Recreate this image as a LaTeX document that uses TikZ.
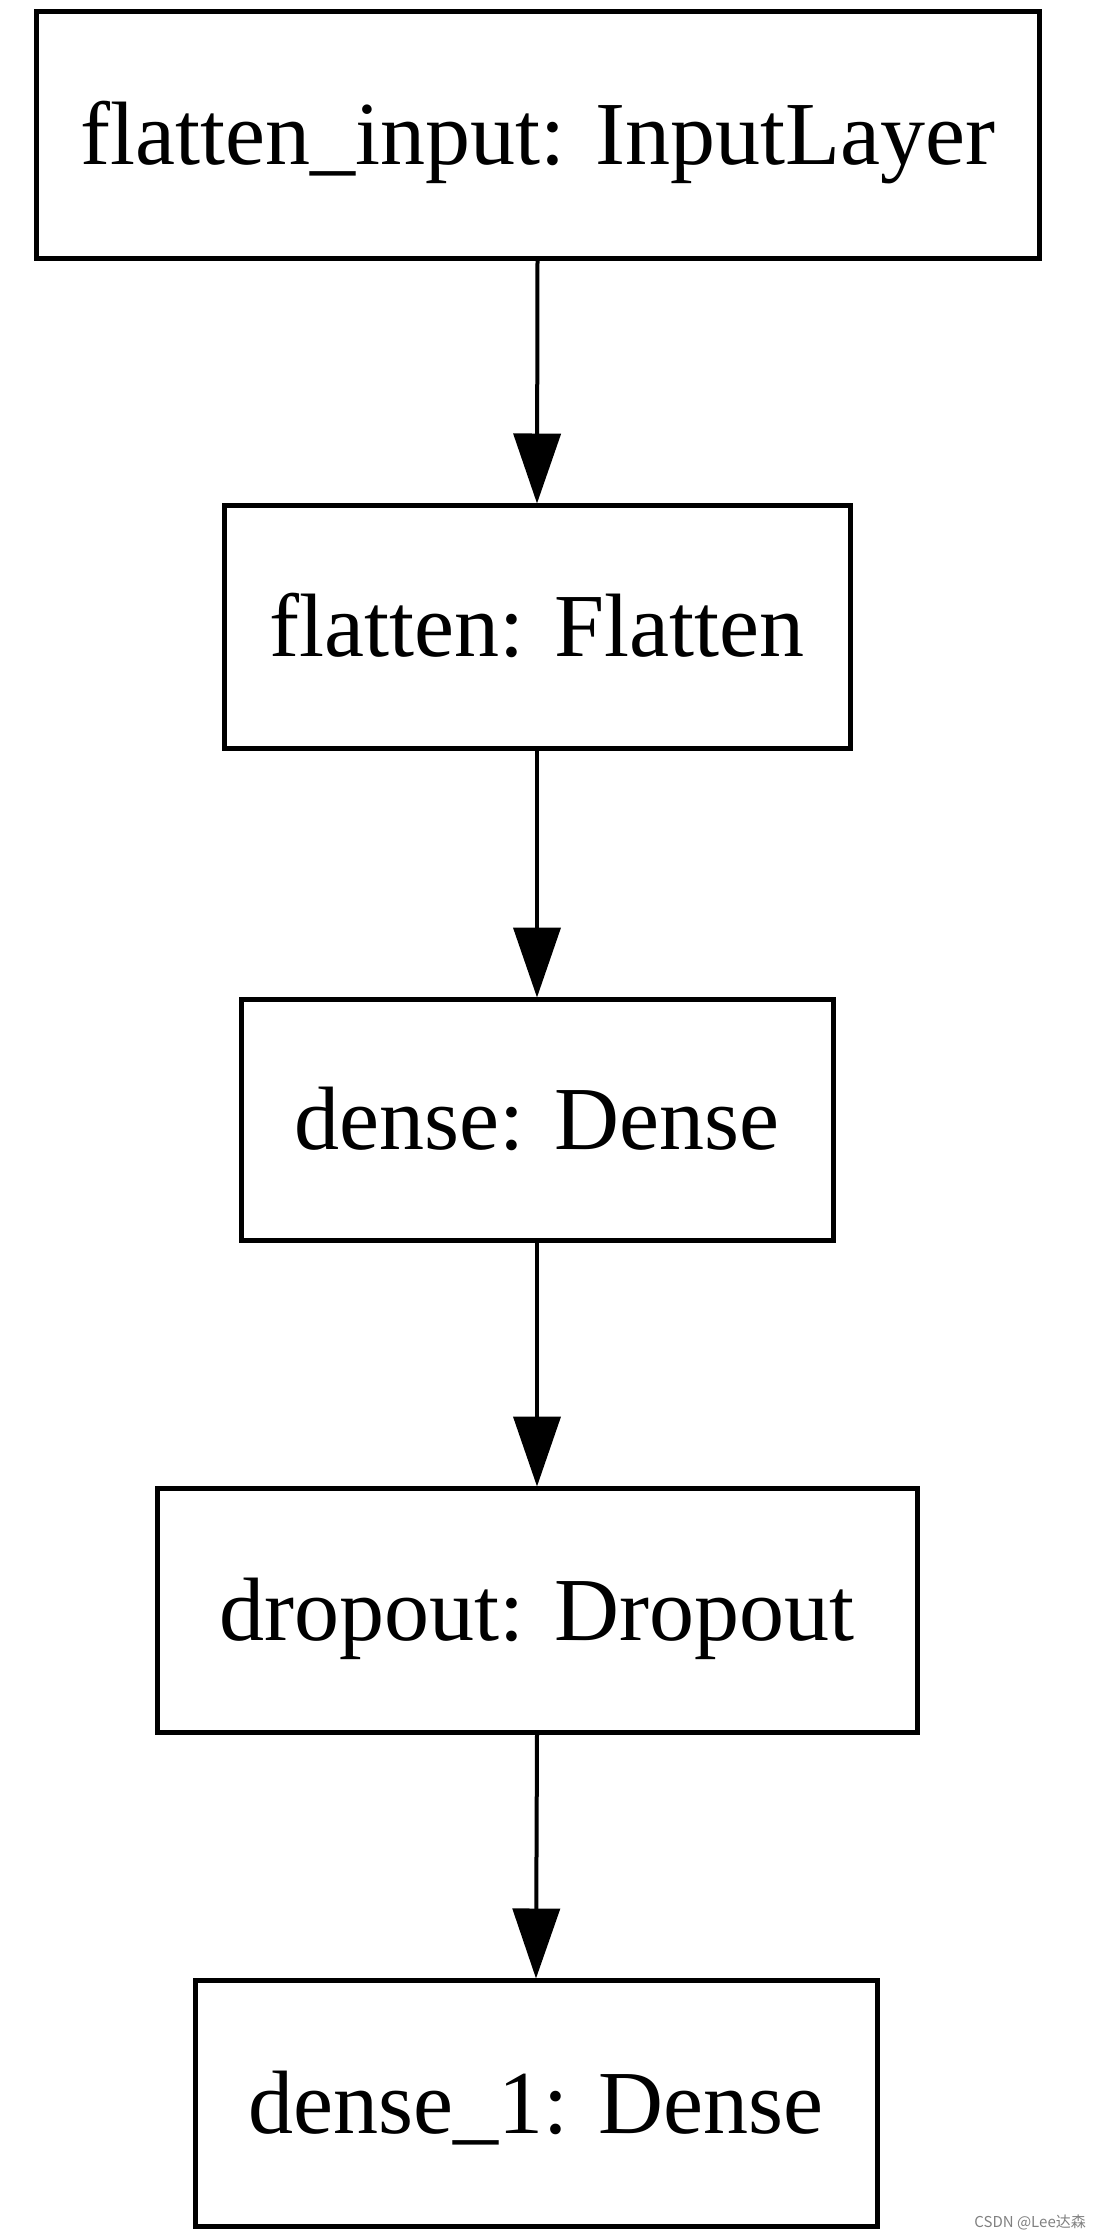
\documentclass[tikz,border=0pt]{standalone}
\usepackage{fontspec}
\setmainfont{Liberation Serif}
\newfontfamily\cjk{Noto Sans CJK SC}
\usetikzlibrary{arrows.meta}
\tikzset{
  layerbox/.style={draw=black, line width=5pt, inner sep=0pt, text height=60pt, text depth=0pt,
    font=\fontsize{90}{90}\selectfont},
  flow/.style={draw=black, line width=4pt, -{Triangle[length=70pt,width=47pt]}, shorten >=-1pt},
  wmark/.style={text=gray, font=\cjk\fontsize{15}{15}\selectfont, anchor=east, inner sep=0pt}
}
\begin{document}
\begin{tikzpicture}[x=1pt,y=1pt]
\useasboundingbox (0,0) rectangle (1100,-2236);
\node[layerbox, minimum width=1003pt, minimum height=247pt] (a) at (537.5,-134.5) {flatten\_input: InputLayer};
\node[layerbox, minimum width=626pt, minimum height=243pt] (b) at (537,-626.5) {flatten: Flatten};
\node[layerbox, minimum width=592pt, minimum height=241pt] (c) at (537,-1119.5) {dense: Dense};
\node[layerbox, minimum width=760pt, minimum height=244pt] (d) at (537,-1610) {dropout: Dropout};
\node[layerbox, minimum width=682pt, minimum height=246pt] (e) at (536,-2103) {dense\_1: Dense};
\draw[flow] (a.south) -- (b.north);
\draw[flow] (b.south) -- (c.north);
\draw[flow] (c.south) -- (d.north);
\draw[flow] (d.south) -- (e.north);
\node[wmark] (w) at (1086,-2222) {CSDN @Lee达森};
\end{tikzpicture}
\end{document}
